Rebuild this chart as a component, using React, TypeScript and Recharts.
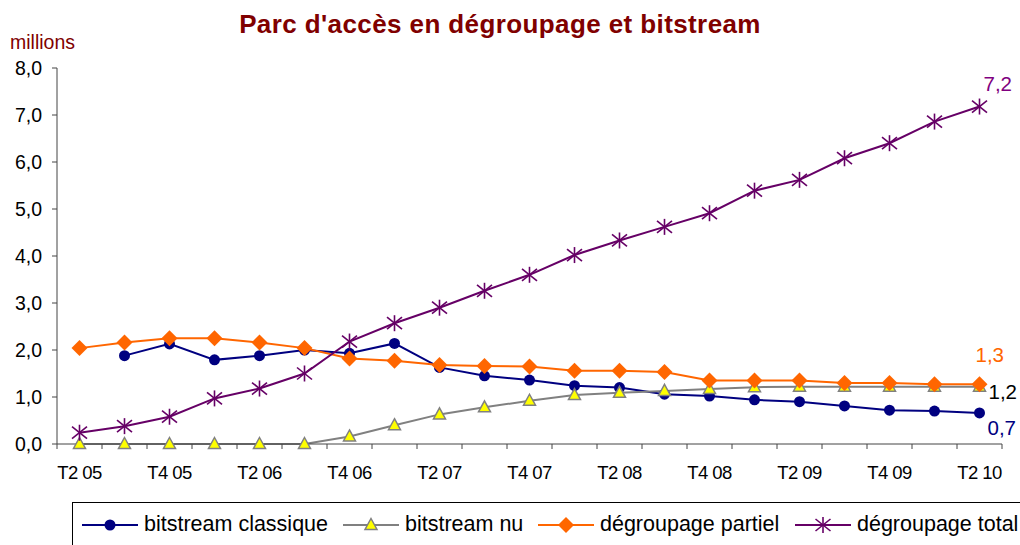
import { LineChart, Line, XAxis, YAxis, Legend, LabelList } from 'recharts'

const QUARTERS = [
  'T2 05', 'T3 05', 'T4 05', 'T1 06', 'T2 06', 'T3 06', 'T4 06',
  'T1 07', 'T2 07', 'T3 07', 'T4 07', 'T1 08', 'T2 08', 'T3 08',
  'T4 08', 'T1 09', 'T2 09', 'T3 09', 'T4 09', 'T1 10', 'T2 10',
]

const bitstreamClassique = [
  null, 1.88, 2.13, 1.79, 1.88, 2.0, 1.93, 2.14, 1.63, 1.45, 1.36,
  1.24, 1.2, 1.06, 1.02, 0.94, 0.9, 0.81, 0.72, 0.7, 0.66,
]
const bitstreamNu = [
  0, 0, 0, 0, 0, 0, 0.16, 0.4, 0.63, 0.78, 0.92,
  1.04, 1.09, 1.13, 1.17, 1.21, 1.22, 1.22, 1.22, 1.22, 1.22,
]
const degroupagePartiel = [
  2.04, 2.16, 2.25, 2.25, 2.16, 2.04, 1.82, 1.77, 1.68, 1.66, 1.65,
  1.56, 1.56, 1.53, 1.35, 1.35, 1.35, 1.3, 1.3, 1.27, 1.27,
]
const degroupageTotal = [
  0.24, 0.38, 0.58, 0.97, 1.18, 1.5, 2.18, 2.57, 2.9, 3.26, 3.6,
  4.02, 4.33, 4.62, 4.91, 5.39, 5.62, 6.08, 6.4, 6.86, 7.18,
]

const Y_TICKS = [0, 1, 2, 3, 4, 5, 6, 7, 8]

const data = QUARTERS.map((q, i) => ({
  q,
  classique: bitstreamClassique[i],
  nu: bitstreamNu[i],
  partiel: degroupagePartiel[i],
  total: degroupageTotal[i],
}))

const W = 1020
const H = 545
const MARGIN = { top: 68, right: 18, left: 7, bottom: 71 }
const Y_AXIS_W = 50
const PLOT_W = W - MARGIN.left - MARGIN.right - Y_AXIS_W
const BAND = PLOT_W / QUARTERS.length
const LAST = QUARTERS.length - 1

const FONT = '"Liberation Sans", Arial, sans-serif'
const AXIS = '#444'
const NAVY = '#000080'
const GREY = '#808080'
const YELLOW = '#ffff00'
const ORANGE = '#ff6600'
const PURPLE = '#660066'
const DARK_RED = '#800000'

const fmt = (v: number) => v.toFixed(1).replace('.', ',')

type Marker = 'circle' | 'triangle' | 'diamond' | 'star'

function drawMarker(kind: Marker, cx: number, cy: number, key?: string | number) {
  if (kind === 'circle')
    return <circle key={key} cx={cx} cy={cy} r={5.5} fill={NAVY} />
  if (kind === 'triangle')
    return (
      <polygon
        key={key}
        points={`${cx},${cy - 6.5} ${cx + 6},${cy + 4.5} ${cx - 6},${cy + 4.5}`}
        fill={YELLOW}
        stroke={GREY}
        strokeWidth={1.5}
      />
    )
  if (kind === 'diamond')
    return (
      <polygon
        key={key}
        points={`${cx},${cy - 8} ${cx + 8},${cy} ${cx},${cy + 8} ${cx - 8},${cy}`}
        fill={ORANGE}
      />
    )
  return (
    <g key={key} stroke={PURPLE} strokeWidth={1.6}>
      <line x1={cx} y1={cy - 8} x2={cx} y2={cy + 8} />
      <line x1={cx - 7.5} y1={cy - 6} x2={cx + 7.5} y2={cy + 6} />
      <line x1={cx - 7.5} y1={cy + 6} x2={cx + 7.5} y2={cy - 6} />
    </g>
  )
}

// legend x = where each item's line sample starts, relative to the legend box
const SERIES: {
  key: string; name: string; color: string; marker: Marker
  label: string; dx: number; dy: number; legendX: number
}[] = [
  { key: 'classique', name: 'bitstream classique', color: NAVY, marker: 'circle', label: NAVY, dx: 8, dy: 22, legendX: 10 },
  { key: 'nu', name: 'bitstream nu', color: GREY, marker: 'triangle', label: '#000', dx: 9, dy: 12, legendX: 271 },
  { key: 'partiel', name: 'dégroupage partiel', color: ORANGE, marker: 'diamond', label: ORANGE, dx: -4, dy: -22, legendX: 466 },
  { key: 'total', name: 'dégroupage total', color: PURPLE, marker: 'star', label: '#800080', dx: 4, dy: -16, legendX: 723 },
]

function QuarterTick(props: any) {
  const { x, y, index, payload } = props
  return (
    <g>
      <line x1={x - BAND / 2} x2={x - BAND / 2} y1={y} y2={y + 5} stroke={AXIS} />
      {index === LAST && <line x1={x + BAND / 2} x2={x + BAND / 2} y1={y} y2={y + 5} stroke={AXIS} />}
      {index % 2 === 0 && (
        <text x={x} y={y + 35} textAnchor="middle" fontSize={18.5} letterSpacing={-0.6} fill="#000" fontFamily={FONT}>
          {payload.value}
        </text>
      )}
    </g>
  )
}

function LegendBox() {
  return (
    <div
      style={{
        position: 'relative',
        width: 960,
        height: 50,
        border: '1px solid #000',
        boxSizing: 'border-box',
        fontFamily: FONT,
        fontSize: 21.5,
        color: '#000',
        whiteSpace: 'nowrap',
      }}
    >
      {SERIES.map((s) => (
        <div key={s.key} style={{ position: 'absolute', left: s.legendX - 1, top: 9, display: 'flex', alignItems: 'center' }}>
          <svg width={56} height={20} style={{ marginRight: 6 }}>
            <line x1={0} y1={10} x2={56} y2={10} stroke={s.color} strokeWidth={2} />
            {drawMarker(s.marker, 28, 10)}
          </svg>
          <span>{s.name}</span>
        </div>
      ))}
    </div>
  )
}

export default function App() {
  return (
    <div style={{ position: 'absolute', left: 0, top: 0, width: W, height: H, overflow: 'hidden', background: '#fff' }}>
      <LineChart width={W} height={H} data={data} margin={MARGIN}>
        <text x={500} y={33} textAnchor="middle" fontFamily={FONT} fontSize={26} letterSpacing={0.4} fontWeight={700} fill={DARK_RED}>
          Parc d'accès en dégroupage et bitstream
        </text>
        <text x={10} y={49} fontFamily={FONT} fontSize={19.5} fill={DARK_RED}>
          millions
        </text>
        <XAxis
          dataKey="q"
          scale="band"
          interval={0}
          height={30}
          tickSize={0}
          tickMargin={0}
          tickLine={false}
          axisLine={{ stroke: AXIS }}
          tick={<QuarterTick />}
        />
        <YAxis
          width={Y_AXIS_W}
          domain={[0, 8]}
          ticks={Y_TICKS}
          tickFormatter={fmt}
          tickSize={5}
          tickMargin={10}
          axisLine={{ stroke: AXIS }}
          tickLine={{ stroke: AXIS }}
          tick={{ fill: '#000', fontSize: 19.5, fontFamily: FONT }}
        />
        {SERIES.map((s) => (
          <Line
            key={s.key}
            dataKey={s.key}
            name={s.name}
            stroke={s.color}
            strokeWidth={2}
            isAnimationActive={false}
            dot={(p: any) =>
              p.cx == null || p.cy == null || p.value == null ? <g key={p.index} /> : drawMarker(s.marker, p.cx, p.cy, p.index)
            }
            activeDot={false}
          >
            <LabelList
              dataKey={s.key}
              content={(p: any) =>
                p.index === LAST ? (
                  <text x={p.x + s.dx} y={p.y + s.dy} fontSize={20.5} fontFamily={FONT} fill={s.label}>
                    {fmt(p.value)}
                  </text>
                ) : null
              }
            />
          </Line>
        ))}
        <Legend
          layout="horizontal"
          verticalAlign="middle"
          align="center"
          content={<LegendBox />}
          wrapperStyle={{ position: 'absolute', left: 72, top: 502, width: 960, margin: 0 }}
        />
      </LineChart>
    </div>
  )
}
